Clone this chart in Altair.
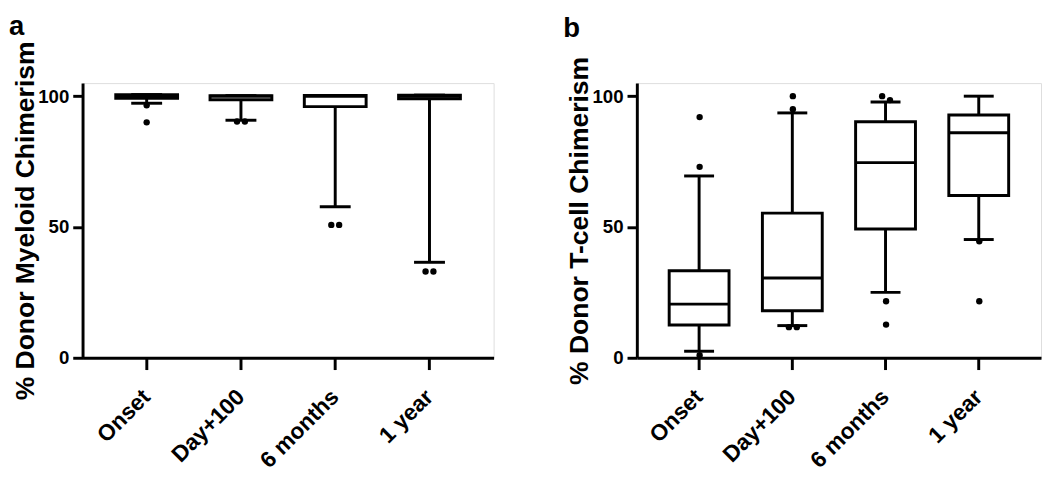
import altair as alt
import pandas as pd

categories = ["Onset", "Day+100", "6 months", "1 year"]

# Panel a: % Donor Myeloid Chimerism
a_low = [97.3, 90.8, 57.7, 36.5]
a_q1 = [99.2, 98.6, 96.0, 99.0]
a_med = [100.0, 100.0, 100.0, 100.0]
a_q3 = [100.6, 100.2, 100.3, 100.4]
a_high = [100.6, 100.2, 100.3, 100.4]
a_out_cat = ["Onset", "Onset", "Day+100", "Day+100", "6 months", "6 months", "1 year", "1 year"]
a_out_val = [96.5, 90.0, 90.3, 90.3, 50.8, 50.8, 33.0, 33.0]

# Panel b: % Donor T-cell Chimerism
b_low = [2.5, 12.3, 25.0, 45.2]
b_q1 = [12.5, 18.0, 49.2, 62.0]
b_med = [20.5, 30.5, 74.6, 86.0]
b_q3 = [33.3, 55.3, 90.2, 92.8]
b_high = [69.5, 93.6, 97.8, 100.0]
b_out_cat = ["Onset", "Onset", "Onset", "Day+100", "Day+100", "Day+100", "Day+100",
             "6 months", "6 months", "6 months", "6 months", "1 year", "1 year"]
b_out_val = [92.0, 73.0, 1.0, 100.0, 95.0, 11.7, 11.7, 100.0, 98.5, 21.6, 12.7, 44.5, 21.6]

FONT = "Liberation Sans"
DOT_GAP = 8
H = 280


def jitter(cats, vals):
    # spread near-identical outliers of a group side by side
    js = [0.0] * len(vals)
    used = set()
    for i in range(len(vals)):
        if i in used:
            continue
        grp = [k for k in range(len(vals))
               if k not in used and cats[k] == cats[i] and abs(vals[k] - vals[i]) <= 2.0]
        for n, k in enumerate(grp):
            js[k] = (n - (len(grp) - 1) / 2) * DOT_GAP
            used.add(k)
    return js


def panel(low, q1, med, q3, high, out_cat, out_val, ytitle, letter, letter_offset,
          width, pad_outer, box_w):
    box = pd.DataFrame(dict(cat=categories, low=low, q1=q1, med=med, q3=q3, high=high))
    out = pd.DataFrame(dict(cat=out_cat, val=out_val, j=jitter(out_cat, out_val)))
    bw = width / (len(categories) + 2 * pad_outer)

    xenc = alt.X(
        "cat:N", sort=categories, title=None,
        scale=alt.Scale(paddingInner=0, paddingOuter=pad_outer),
        axis=alt.Axis(labelAngle=-45, labelAlign="right", labelBaseline="middle",
                      labelFontSize=23, labelFontWeight="bold", labelFont=FONT,
                      labelColor="black", labelPadding=24,
                      tickSize=12, tickWidth=3, tickColor="black",
                      domainWidth=3, domainColor="black"),
    )
    yscale = alt.Scale(domain=[0, 105], nice=False)
    yaxis = alt.Axis(values=[0, 50, 100], grid=False,
                     labelFontSize=19, labelFontWeight="bold", labelFont=FONT,
                     labelColor="black", labelPadding=4,
                     tickSize=10, tickWidth=3, tickColor="black",
                     domainWidth=3, domainColor="black",
                     title=ytitle, titleFontSize=27, titleFontWeight="bold",
                     titleFont=FONT, titleColor="black",
                     titleX=-50, titleBaseline="alphabetic",
                     titleAlign="center", titleAngle=-90)

    base = alt.Chart(box)
    whisk_lo = base.mark_rule(strokeWidth=3, color="black").encode(
        x=xenc, y=alt.Y("low:Q", scale=yscale, axis=yaxis), y2="q1:Q")
    whisk_hi = base.mark_rule(strokeWidth=3, color="black").encode(
        x=xenc, y=alt.Y("q3:Q", scale=yscale), y2="high:Q")
    cap_lo = base.mark_tick(size=box_w / 2, thickness=3, color="black", opacity=1).encode(
        x=xenc, y=alt.Y("low:Q", scale=yscale))
    cap_hi = base.mark_tick(size=box_w / 2, thickness=3, color="black", opacity=1).encode(
        x=xenc, y=alt.Y("high:Q", scale=yscale))
    boxes = base.mark_bar(size=box_w, fill="white", stroke="black", strokeWidth=3, opacity=1).encode(
        x=xenc, y=alt.Y("q1:Q", scale=yscale), y2="q3:Q")
    medians = base.mark_tick(size=box_w, thickness=3, color="black", opacity=1).encode(
        x=xenc, y=alt.Y("med:Q", scale=yscale))
    dots = alt.Chart(out).mark_circle(size=42, color="black", opacity=1).encode(
        x=xenc,
        xOffset=alt.XOffset("j:Q", scale=alt.Scale(domain=[-bw / 2, bw / 2])),
        y=alt.Y("val:Q", scale=yscale))

    return alt.layer(whisk_lo, whisk_hi, cap_lo, cap_hi, boxes, medians, dots).properties(
        width=width, height=H,
        title=alt.TitleParams(letter, anchor="start", frame="group", dx=-75, offset=letter_offset,
                              fontSize=28, fontWeight="bold", font=FONT, color="black"),
    )


pa = panel(a_low, a_q1, a_med, a_q3, a_high, a_out_cat, a_out_val,
           "% Donor Myeloid Chimerism", "a", 0, 419, 0.18, 63)
pb = panel(b_low, b_q1, b_med, b_q3, b_high, b_out_cat, b_out_val,
           "% Donor T-cell Chimerism", "b", 14, 412, 0.168, 61)

chart = alt.hconcat(pa, pb, spacing=69).configure_view(stroke=None).configure(
    background="white", padding=0)

chart.save("out.html", embed_options={"renderer": "svg", "actions": False})
